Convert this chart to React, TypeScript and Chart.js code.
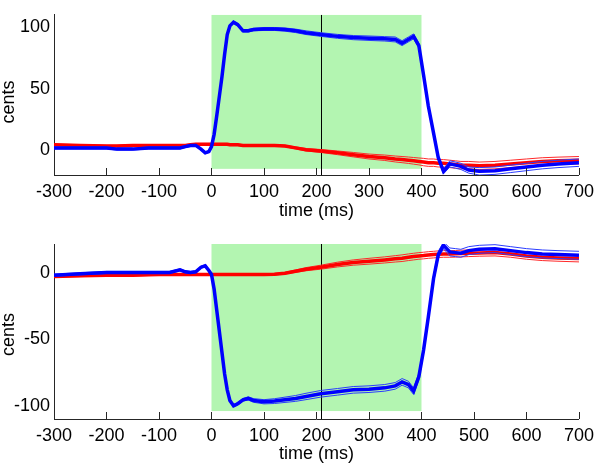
import React, { useEffect, useRef } from 'react';
import { Chart, registerables } from 'chart.js';

Chart.register(...registerables);

// time axis (ms)
const TIME = [
  -300, -250, -200, -180, -150, -120, -100, -80, -60, -50,
  -40, -30, -20, -12, -5, 0, 5, 10, 15, 20,
  25, 30, 35, 42, 50, 60, 70, 80, 100, 120,
  140, 160, 180, 208, 240, 270, 300, 330, 350, 363,
  375, 385, 395, 404, 413, 423, 432, 442, 454, 465,
  475, 490, 510, 540, 570, 600, 630, 660, 700,
];

// top panel (upward shift)
const TOP_BLUE = [
  2, 2, 2, 1, 1, 2, 2, 2, 2, 3,
  4, 4, 1, -2, -1, 3, 13, 28, 44, 60,
  78, 94, 101, 104, 102, 97, 97, 98, 98.5, 98.5,
  98, 97, 95.5, 94, 92.5, 91.5, 91, 90.5, 90, 87,
  90, 92.5, 85, 61, 36, 14, -6, -17, -11, -12,
  -13, -16, -17, -16.5, -15, -13.5, -12, -11, -10,
];
const TOP_BLUE_SPREAD = [
  0.8, 0.8, 0.8, 0.8, 0.8, 0.8, 0.8, 0.8, 0.8, 0.8,
  0.8, 0.8, 0.8, 0.8, 0.8, 1, 1, 1, 1, 1,
  1, 1, 1, 1, 1, 1, 1, 1, 1.2, 1.2,
  1.3, 1.4, 1.5, 1.5, 1.6, 1.7, 1.8, 1.8, 2, 2,
  2, 2, 2, 2, 2, 2, 2, 2, 2.5, 2.5,
  2.5, 2.5, 3, 3, 3, 3, 3, 3, 3,
];
const TOP_RED = [
  4.5, 4, 3.5, 3.5, 4, 4, 4, 4, 4, 4,
  4.5, 5, 5, 5, 5, 5, 5, 5, 5, 5,
  5, 5, 4.5, 4.5, 4.5, 4, 4, 4, 4, 4,
  3.5, 2, 0.5, -0.5, -2, -3.5, -5, -6, -7, -7.5,
  -8, -8.5, -9, -9.5, -10, -10, -10.5, -10.5, -11, -11.5,
  -12, -12, -12.5, -12, -11, -10, -9, -8.5, -8,
];
const TOP_RED_SPREAD = [
  0.6, 0.6, 0.6, 0.6, 0.6, 0.6, 0.6, 0.6, 0.6, 0.6,
  0.6, 0.6, 0.6, 0.6, 0.6, 0.6, 0.6, 0.6, 0.6, 0.6,
  0.6, 0.6, 0.6, 0.6, 0.6, 0.6, 0.6, 0.6, 0.6, 0.6,
  0.6, 0.8, 1, 1.2, 1.5, 1.8, 2, 2.2, 2.4, 2.5,
  2.6, 2.7, 2.8, 3, 3, 3, 3, 3, 3, 3,
  3, 3, 3, 3, 3, 3, 3, 3, 3,
];

// bottom panel (downward shift)
const BOT_BLUE = [
  -1.5, -0.5, 0.5, 0.5, 0.5, 0.5, 0.5, 0.5, 2.5, 1,
  0.5, 1, 4.5, 5.5, 2, -1, -12, -28, -44, -60,
  -76, -88, -96, -100, -98.5, -95.5, -94.5, -96, -97, -96.5,
  -95.5, -94.5, -93, -91, -89.5, -88, -87.5, -86.5, -85, -82,
  -84, -89, -78, -58, -33, -4, 14, 21, 16, 15.5,
  15, 17, 18, 18.5, 17, 15.5, 14.5, 14, 13.5,
];
const BOT_BLUE_SPREAD = [
  0.8, 0.8, 0.8, 0.8, 0.8, 0.8, 0.8, 0.8, 0.8, 0.8,
  0.8, 0.8, 0.8, 0.8, 0.8, 1, 1, 1, 1, 1,
  1, 1, 1, 1, 1, 1, 1.2, 1.4, 1.6, 1.8,
  2, 2.2, 2.4, 2.5, 2.5, 2.5, 2.5, 2.5, 2.5, 2.5,
  2.5, 2.5, 2.5, 2.5, 2.5, 2.5, 2.5, 2.5, 3, 3,
  3, 3, 3, 3, 3, 3, 3, 3, 3,
];
const BOT_RED = [
  -2.5, -2, -1.5, -1.5, -1.5, -1.2, -1, -1, -1, -1,
  -1, -1, -1, -1, -1, -1, -1, -1, -1, -1,
  -1, -1, -1, -1, -1, -1, -1, -1, -1, -0.8,
  0, 1.5, 3, 4.5, 6.5, 8, 9, 10, 10.8, 11.3,
  12, 12.5, 13, 13.3, 13.7, 14, 14.3, 14.5, 14.5, 14.6,
  14.8, 15, 15.3, 15.5, 14.5, 13, 12, 11.5, 11,
];
const BOT_RED_SPREAD = [
  0.6, 0.6, 0.6, 0.6, 0.6, 0.6, 0.6, 0.6, 0.6, 0.6,
  0.6, 0.6, 0.6, 0.6, 0.6, 0.6, 0.6, 0.6, 0.6, 0.6,
  0.6, 0.6, 0.6, 0.6, 0.6, 0.6, 0.6, 0.6, 0.6, 0.6,
  0.6, 0.9, 1.2, 1.5, 1.8, 2, 2.2, 2.3, 2.4, 2.5,
  2.5, 2.5, 2.5, 2.5, 2.5, 2.5, 2.5, 2.5, 2.5, 2.5,
  2.5, 2.5, 2.5, 2.5, 2.5, 2.5, 2.5, 2.5, 2.5,
];

const X_TICKS = [-300, -200, -100, 0, 100, 200, 300, 400, 500, 600, 700];
const TOP_Y_TICKS = [0, 50, 100];
const BOT_Y_TICKS = [-100, -50, 0];
const X_RANGE = [-300, 700];
const TOP_Y_RANGE = [-20, 110];
const BOT_Y_RANGE = [-110, 22];
const PERTURB_WINDOW = [0, 400];
const TOP_GREEN_Y = [-15, 110];
const BOT_GREEN_Y = [-104, 22];
const MARKER_TIME = 208;

const FONT = "'Liberation Sans', Arial, Helvetica, sans-serif";
const BLUE = '#0000ff';
const BLUE_THIN = '#2a3cff';
const RED = '#ff0000';
const RED_THIN = '#ff2a2a';
const GREEN = '#b3f5b1';
const AXIS = '#262626';

type PanelProps = {
  height: number;
  padTop: number;
  axisHeight: number;
  titlePadBottom: number;
  yTitleOffset: number;
  blue: number[];
  blueSpread: number[];
  red: number[];
  redSpread: number[];
  yRange: number[];
  yTicks: number[];
  greenY: number[];
};

function series(vals: number[], spread: number[] | null, sign: number) {
  return TIME.map((t, i) => ({ x: t, y: vals[i] + (spread ? sign * spread[i] : 0) }));
}

function Panel(p: PanelProps) {
  const ref = useRef<HTMLCanvasElement>(null);
  useEffect(() => {
    if (!ref.current) return;
    const overlay = {
      id: 'overlay',
      beforeDatasetsDraw(chart: any) {
        const { ctx, chartArea } = chart;
        const x = chart.scales.x;
        const y = chart.scales.y;
        ctx.save();
        ctx.beginPath();
        ctx.rect(chartArea.left, chartArea.top, chartArea.right - chartArea.left, chartArea.bottom - chartArea.top);
        ctx.clip();
        const x0 = x.getPixelForValue(PERTURB_WINDOW[0]);
        const x1 = x.getPixelForValue(PERTURB_WINDOW[1]);
        const y0 = y.getPixelForValue(p.greenY[1]);
        const y1 = y.getPixelForValue(p.greenY[0]);
        ctx.fillStyle = GREEN;
        ctx.fillRect(x0, y0, x1 - x0, y1 - y0);
        const xm = Math.round(x.getPixelForValue(MARKER_TIME)) + 0.5;
        ctx.strokeStyle = '#000';
        ctx.lineWidth = 1;
        ctx.beginPath();
        ctx.moveTo(xm, chartArea.top);
        ctx.lineTo(xm, chartArea.bottom);
        ctx.stroke();
        ctx.restore();
      },
      afterDraw(chart: any) {
        const { ctx, chartArea } = chart;
        const x = chart.scales.x;
        ctx.save();
        ctx.strokeStyle = AXIS;
        ctx.lineWidth = 1;
        ctx.beginPath();
        for (const v of X_TICKS) {
          const px = Math.round(x.getPixelForValue(v)) + 0.5;
          ctx.moveTo(px, chartArea.bottom);
          ctx.lineTo(px, chartArea.bottom - 7);
        }
        ctx.stroke();
        ctx.fillStyle = '#000';
        ctx.font = `18px ${FONT}`;
        ctx.textAlign = 'center';
        ctx.textBaseline = 'middle';
        ctx.translate(9, (chartArea.top + chartArea.bottom) / 2 + p.yTitleOffset);
        ctx.rotate(-Math.PI / 2);
        ctx.fillText('cents', 0, 0);
        ctx.restore();
      },
    };
    const chart = new Chart(ref.current, {
      type: 'line',
      data: {
        datasets: [
          { data: series(p.blue, null, 0), borderColor: BLUE, borderWidth: 3.5 },
          { data: series(p.blue, p.blueSpread, 1), borderColor: BLUE_THIN, borderWidth: 1 },
          { data: series(p.blue, p.blueSpread, -1), borderColor: BLUE_THIN, borderWidth: 1 },
          { data: series(p.red, null, 0), borderColor: RED, borderWidth: 3.5 },
          { data: series(p.red, p.redSpread, 1), borderColor: RED_THIN, borderWidth: 1 },
          { data: series(p.red, p.redSpread, -1), borderColor: RED_THIN, borderWidth: 1 },
        ] as any,
      },
      options: {
        animation: false,
        responsive: false,
        events: [],
        layout: { padding: { top: p.padTop, right: 17, left: 0, bottom: 0 } },
        elements: { point: { radius: 0 }, line: { tension: 0, fill: false } },
        plugins: { legend: { display: false }, tooltip: { enabled: false }, title: { display: false } },
        scales: {
          x: {
            type: 'linear',
            min: X_RANGE[0],
            max: X_RANGE[1],
            grid: { display: false, drawTicks: false },
            border: { display: true, color: AXIS, width: 1 },
            afterBuildTicks: (s: any) => { s.ticks = X_TICKS.map((v) => ({ value: v })); },
            afterFit: (s: any) => { s.height = p.axisHeight; },
            ticks: {
              autoSkip: false,
              maxRotation: 0,
              padding: 6,
              color: '#000',
              font: { family: FONT, size: 18 },
              callback: (v: any) => String(v),
            },
            title: {
              display: true,
              text: 'time (ms)',
              color: '#000',
              font: { family: FONT, size: 18 },
              padding: { top: 0, bottom: p.titlePadBottom },
            },
          },
          y: {
            type: 'linear',
            min: p.yRange[0],
            max: p.yRange[1],
            grid: { display: false, drawTicks: false },
            border: { display: true, color: AXIS, width: 1 },
            afterBuildTicks: (s: any) => { s.ticks = p.yTicks.map((v) => ({ value: v })); },
            afterFit: (s: any) => { s.width = 54; },
            ticks: {
              padding: 4,
              color: '#000',
              font: { family: FONT, size: 18 },
              callback: (v: any) => String(v),
            },
          },
        },
      } as any,
      plugins: [overlay],
    });
    return () => chart.destroy();
  }, []);
  return (
    <div style={{ width: 600, height: p.height }}>
      <canvas ref={ref} width={600} height={p.height} style={{ display: 'block' }} />
    </div>
  );
}

export default function App() {
  return (
    <div style={{ position: 'absolute', left: 0, top: 0, width: 600, height: 466, background: '#fff' }}>
      <Panel
        height={222}
        padTop={2}
        axisHeight={47}
        titlePadBottom={0}
        yTitleOffset={7}
        blue={TOP_BLUE}
        blueSpread={TOP_BLUE_SPREAD}
        red={TOP_RED}
        redSpread={TOP_RED_SPREAD}
        yRange={TOP_Y_RANGE}
        yTicks={TOP_Y_TICKS}
        greenY={TOP_GREEN_Y}
      />
      <Panel
        height={244}
        padTop={22}
        axisHeight={47}
        titlePadBottom={1}
        yTitleOffset={3}
        blue={BOT_BLUE}
        blueSpread={BOT_BLUE_SPREAD}
        red={BOT_RED}
        redSpread={BOT_RED_SPREAD}
        yRange={BOT_Y_RANGE}
        yTicks={BOT_Y_TICKS}
        greenY={BOT_GREEN_Y}
      />
    </div>
  );
}
